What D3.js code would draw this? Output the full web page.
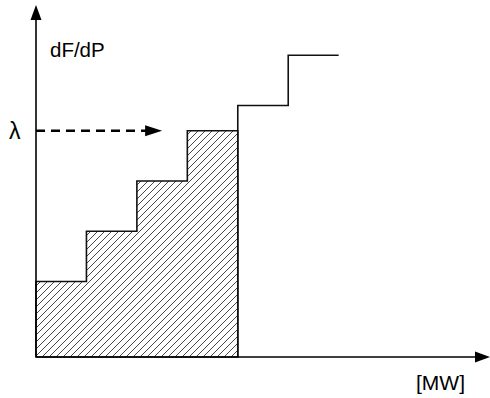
<!DOCTYPE html>
<html>
<head>
<meta charset="utf-8">
<script src="https://cdn.jsdelivr.net/npm/d3@7"></script>
<style>
  html, body { margin: 0; padding: 0; background: #fff; }
  svg { display: block; }
</style>
</head>
<body>
<svg id="chart" width="490" height="398"></svg>
<script>
// ---- data ----
const stepEdges = [0, 1, 2, 3, 4, 5, 6];          // MW block boundaries
const stepLevels = [1.5, 2.5, 3.5, 4.5, 5, 6];    // incremental cost per block
const lambda = 4.5;                                 // system lambda
const lambdaArrowEnd = 2.5;                         // where the λ arrow ends (MW units)
const xMax = 9, yMax = 7;
const labels = { y: "dF/dP", x: "[MW]", lambda: "λ" };

// ---- scales ----
const x = d3.scaleLinear().domain([0, xMax]).range([36, 490]);
const y = d3.scaleLinear().domain([0, yMax]).range([357, 5]);

const svg = d3.select("#chart");
const defs = svg.append("defs");

// hatch pattern
const pat = defs.append("pattern")
  .attr("id", "hatch")
  .attr("patternUnits", "userSpaceOnUse")
  .attr("width", 7).attr("height", 7);
pat.append("path")
  .attr("d", "M-1,1 l2,-2 M0,7 l7,-7 M6,8 l2,-2")
  .attr("stroke", "#333").attr("stroke-width", 0.9);

// ---- hatched area (blocks dispatched below lambda) ----
const filled = [];
stepLevels.forEach((lv, i) => {
  if (lv <= lambda) {
    filled.push([stepEdges[i], lv]);
    filled.push([stepEdges[i + 1], lv]);
  }
});
const lastX = filled[filled.length - 1][0];
const areaGen = d3.area()
  .x(d => x(d[0])).y0(y(0)).y1(d => y(d[1]));
svg.append("path")
  .datum(filled)
  .attr("d", areaGen)
  .attr("fill", "url(#hatch)")
  .attr("stroke", "#111").attr("stroke-width", 1.6);

// ---- step curve (remaining blocks) ----
const rest = [[lastX, 0]];
stepLevels.forEach((lv, i) => {
  if (lv > lambda) {
    rest.push([stepEdges[i], lv]);
    rest.push([stepEdges[i + 1], lv]);
  }
});
const lineGen = d3.line().x(d => x(d[0])).y(d => y(d[1]));
svg.append("path")
  .datum(rest)
  .attr("d", lineGen)
  .attr("fill", "none")
  .attr("stroke", "#111").attr("stroke-width", 1.6);

// ---- axes with arrowheads ----
svg.append("line")
  .attr("x1", x(0)).attr("y1", y(0))
  .attr("x2", x(0)).attr("y2", y(yMax) + 12)
  .attr("stroke", "#000").attr("stroke-width", 1.6);
svg.append("path")
  .attr("d", `M${x(0)},${y(yMax)} L${x(0) - 5.5},${y(yMax) + 15} L${x(0) + 5.5},${y(yMax) + 15}Z`)
  .attr("fill", "#000");

svg.append("line")
  .attr("x1", x(0)).attr("y1", y(0))
  .attr("x2", x(xMax) - 12).attr("y2", y(0))
  .attr("stroke", "#000").attr("stroke-width", 1.6);
svg.append("path")
  .attr("d", `M${x(xMax)},${y(0)} L${x(xMax) - 15},${y(0) - 5.5} L${x(xMax) - 15},${y(0) + 5.5}Z`)
  .attr("fill", "#000");

// ---- lambda dashed arrow ----
svg.append("line")
  .attr("x1", x(0)).attr("y1", y(lambda))
  .attr("x2", x(lambdaArrowEnd) - 14).attr("y2", y(lambda))
  .attr("stroke", "#000").attr("stroke-width", 2.4)
  .attr("stroke-dasharray", "9,6");
svg.append("path")
  .attr("d", `M${x(lambdaArrowEnd)},${y(lambda)} L${x(lambdaArrowEnd) - 17},${y(lambda) - 5.5} L${x(lambdaArrowEnd) - 17},${y(lambda) + 5.5}Z`)
  .attr("fill", "#000");

// ---- labels ----
svg.append("text")
  .attr("x", 50).attr("y", 57)
  .attr("font-family", "Liberation Sans, Arial, sans-serif")
  .attr("font-size", 20.5).attr("fill", "#000")
  .text(labels.y);
svg.append("text")
  .attr("x", 416).attr("y", 390)
  .attr("font-family", "Liberation Sans, Arial, sans-serif")
  .attr("font-size", 21).attr("fill", "#000")
  .text(labels.x);
svg.append("text")
  .attr("x", 9).attr("y", 138.5)
  .attr("font-family", "Liberation Sans, Arial, sans-serif")
  .attr("font-size", 23).attr("fill", "#000")
  .text(labels.lambda);
</script>
</body>
</html>
